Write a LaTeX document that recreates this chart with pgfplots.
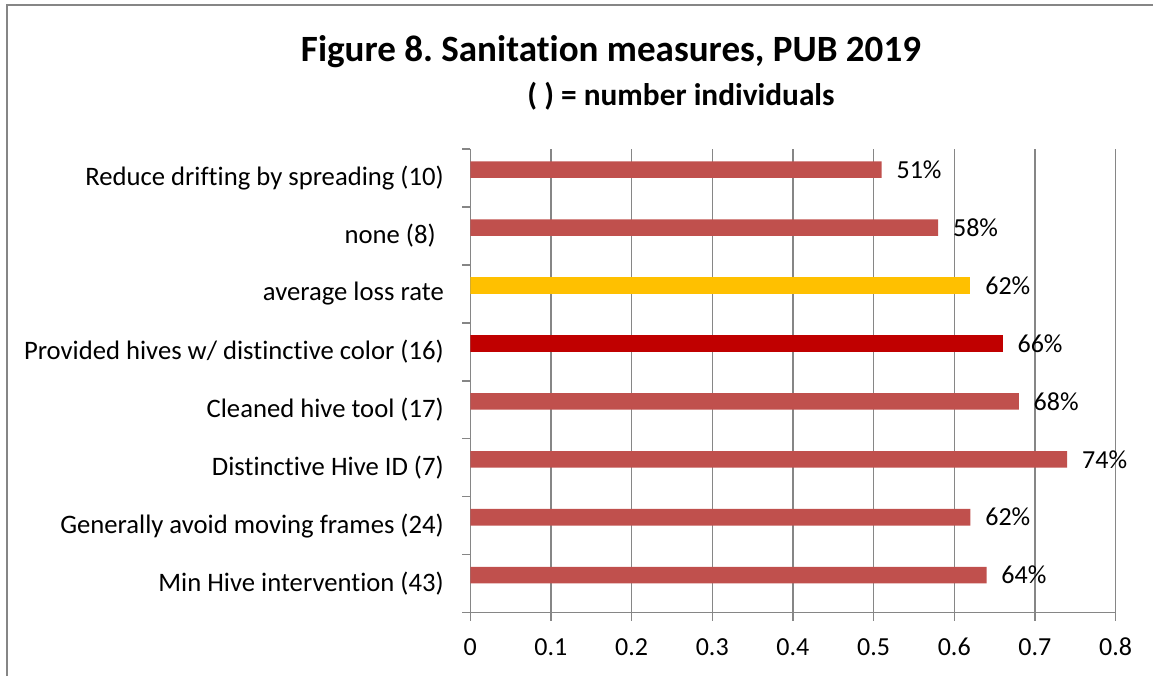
\documentclass[border=0pt]{standalone}
\usepackage{fontspec}
\setmainfont{Carlito}[Ligatures=NoCommon]
\usepackage{pgfplots}
\pgfplotsset{compat=1.18}
\definecolor{barred}{HTML}{C0504D}
\definecolor{baryel}{HTML}{FFC000}
\definecolor{bardark}{HTML}{C00000}
\definecolor{gridgray}{HTML}{868686}
\frenchspacing
\begin{document}
\begin{tikzpicture}
\useasboundingbox (0,0) rectangle (864.75pt,507pt);
\draw[gridgray, line width=1.5pt] (5.25pt,0) -- (5.25pt,503.25pt) -- (864.75pt,503.25pt);
\node[font=\bfseries\fontsize{27.8}{33}\selectfont, anchor=base, inner sep=0pt] at (458.25pt,460.5pt) {Figure 8. Sanitation measures, PUB 2019};
\node[font=\bfseries\fontsize{23.5}{28}\selectfont, anchor=base, inner sep=0pt] at (510.75pt,427.5pt) {( ) = number individuals};
\begin{axis}[
  at={(352.7pt,47.6pt)}, anchor=south west,
  scale only axis, width=484pt, height=347.6pt,
  xmin=0, xmax=0.8, ymin=-0.5, ymax=7.5,
  axis lines*=left,
  axis line style={gridgray, line width=1.1pt},
  xmajorgrids, major grid style={gridgray, line width=1.1pt},
  xtick={0,0.1,0.2,0.3,0.4,0.5,0.6,0.7,0.8},
  xticklabels={0,0.1,0.2,0.3,0.4,0.5,0.6,0.7,0.8},
  xticklabel style={anchor=base, inner sep=0pt, yshift=-26pt, font=\fontsize{19.5}{23}\selectfont},
  ytick={-0.5,0.5,1.5,2.5,3.5,4.5,5.5,6.5,7.5},
  yticklabels={},
  tick align=outside, major tick length=6pt,
  tick style={gridgray, line width=1.1pt},
  extra y ticks={0,1,2,3,4,5,6,7},
  extra y tick labels={Min Hive intervention (43),Generally avoid moving frames (24),Distinctive Hive ID (7),Cleaned hive tool (17),Provided hives w/ distinctive color (16),average loss rate,none (8)\phantom{)},Reduce drifting by spreading (10)},
  extra y tick style={major tick length=0pt, tick style={draw=none}, yticklabel style={anchor=east, inner sep=0pt, xshift=-19.7pt, font=\fontsize{20}{24}\selectfont}},
  xbar, bar width=12.45pt,
  point meta=explicit symbolic,
  nodes near coords,
  every node near coord/.append style={anchor=west, inner sep=0pt, xshift=11pt, font=\fontsize{19.5}{23}\selectfont, text=black},
]
\addplot[fill=barred, draw=none, bar shift=6.3pt] coordinates {
  (0.64,0) [64\%]
  (0.62,1) [62\%]
  (0.74,2) [74\%]
  (0.68,3) [68\%]
  (0.58,6) [58\%]
  (0.51,7) [51\%]
};
\addplot[fill=bardark, draw=none, bar shift=6.3pt] coordinates {
  (0.66,4) [66\%]
};
\addplot[fill=baryel, draw=none, bar shift=6.3pt] coordinates {
  (0.62,5) [62\%]
};
\end{axis}
\end{tikzpicture}
\end{document}
